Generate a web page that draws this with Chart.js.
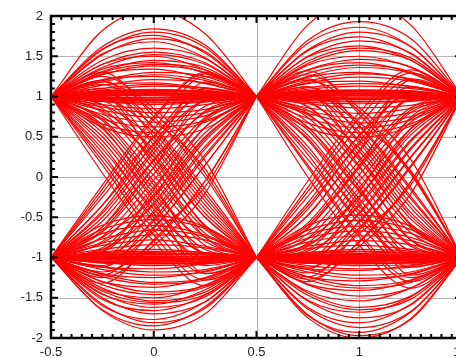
<!DOCTYPE html>
<html>
<head>
<meta charset="utf-8">
<script src="https://cdn.jsdelivr.net/npm/chart.js@4.4.0/dist/chart.umd.min.js"></script>
<style>
  html, body { margin: 0; padding: 0; overflow: hidden; background: #fff; }
</style>
</head>
<body>
<canvas id="eye_chart" width="470" height="358"></canvas>
<script>
// x positions inside one bit, relative to the bit centre
const sampleOffsets = [-0.5, -0.25, 0, 0.25, 0.5];
const bitCentres = [0, 1];

const xTicks = [-0.5, 0, 0.5, 1, 1.5];
const yTicks = [2, 1.5, 1, 0.5, 0, -0.5, -1, -1.5, -2];

// each row: value at -0.25, 0 and +0.25 from the bit centre
// first bit, 1 -> 1
const firstHigh = [
  [1.82, 2.07, 1.78], [1.62, 1.84, 1.64], [1.58, 1.8, 1.61], [1.59, 1.76, 1.54],
  [1.52, 1.72, 1.56], [1.53, 1.68, 1.48], [1.45, 1.6, 1.47], [1.4, 1.55, 1.42],
  [1.36, 1.52, 1.4], [1.4, 1.5, 1.33], [1.31, 1.45, 1.36], [1.34, 1.42, 1.29],
  [1.3, 1.4, 1.33], [1.27, 1.38, 1.3], [1.28, 1.34, 1.22], [1.2, 1.3, 1.25],
  [1.18, 1.27, 1.2], [1.21, 1.25, 1.16], [1.14, 1.21, 1.17], [1.14, 1.17, 1.1],
  [1.1, 1.15, 1.08], [1.08, 1.13, 1.11],
  [1.07, 1.09, 1.06], [1.065, 1.075, 1.06], [1.06, 1.08, 1.07], [1.05, 1.07, 1.05],
  [1.045, 1.06, 1.05], [1.04, 1.05, 1.03], [1.03, 1.04, 1.04], [1.025, 1.035, 1.03],
  [1.02, 1.03, 1.02], [1.005, 1.02, 1.01], [1.01, 1.01, 1.0], [0.99, 0.99, 1.0],
  [0.985, 0.985, 0.99], [0.98, 0.97, 0.98], [0.97, 0.96, 0.96], [0.965, 0.95, 0.96],
  [0.96, 0.95, 0.97], [0.95, 0.93, 0.95], [0.94, 0.92, 0.94],
  [0.94, 0.9, 0.93], [0.9, 0.85, 0.9], [0.87, 0.8, 0.84], [0.83, 0.74, 0.8],
  [0.78, 0.68, 0.76], [0.72, 0.62, 0.7], [0.66, 0.55, 0.68], [0.62, 0.5, 0.6],
];
// first bit, -1 -> -1
const firstLow = [
  [-1.66, -1.9, -1.7], [-1.65, -1.85, -1.61], [-1.58, -1.81, -1.63], [-1.6, -1.77, -1.55],
  [-1.5, -1.7, -1.55], [-1.52, -1.66, -1.47], [-1.45, -1.62, -1.49], [-1.46, -1.58, -1.4],
  [-1.42, -1.56, -1.46], [-1.38, -1.54, -1.43], [-1.4, -1.5, -1.34], [-1.34, -1.46, -1.37],
  [-1.3, -1.43, -1.35], [-1.3, -1.37, -1.25], [-1.24, -1.33, -1.28], [-1.21, -1.31, -1.26],
  [-1.2, -1.25, -1.17], [-1.15, -1.22, -1.18], [-1.12, -1.18, -1.15], [-1.12, -1.14, -1.08],
  [-1.06, -1.1, -1.08],
  [-1.07, -1.08, -1.06], [-1.065, -1.075, -1.07], [-1.06, -1.07, -1.07], [-1.05, -1.06, -1.04],
  [-1.045, -1.055, -1.05], [-1.03, -1.04, -1.03], [-1.025, -1.03, -1.02], [-1.02, -1.02, -1.01],
  [-1.01, -1.01, -1.005], [-1.0, -1.0, -0.99], [-0.99, -0.985, -0.99], [-0.98, -0.98, -0.99],
  [-0.97, -0.96, -0.97], [-0.965, -0.955, -0.96], [-0.96, -0.95, -0.95], [-0.95, -0.94, -0.96],
  [-0.94, -0.925, -0.94],
  [-0.93, -0.9, -0.94], [-0.9, -0.84, -0.88], [-0.85, -0.78, -0.86], [-0.82, -0.72, -0.78],
  [-0.77, -0.66, -0.74], [-0.7, -0.6, -0.72], [-0.65, -0.53, -0.64], [-0.6, -0.48, -0.62],
];
// first bit, 1 -> -1
const firstFall = [
  [0.05, -0.8, -1.35], [0.15, -0.72, -1.28], [0.2, -0.65, -1.2], [0.25, -0.5, -1.0],
  [0.3, -0.55, -1.1], [0.35, -0.4, -0.95], [0.4, -0.45, -1.05], [0.45, -0.35, -0.95],
  [0.5, -0.3, -1.2], [0.55, -0.25, -0.9], [0.6, -0.15, -0.85], [0.62, -0.2, -0.8],
  [0.65, -0.1, -0.95], [0.7, -0.05, -0.75], [0.72, 0.02, -0.7], [0.75, 0.25, -0.5],
  [0.8, 0.1, -0.65], [0.82, 0.35, -0.45], [0.85, 0.2, -0.6], [0.9, 0.15, -0.75],
  [0.9, 0.45, -0.35], [0.95, 0.3, -0.5], [0.98, 0.55, -0.25], [1.0, 0.4, -0.4],
  [1.0, 0.25, -0.62], [1.05, 0.62, -0.15], [1.1, 0.5, -0.3], [1.15, 0.7, 0.1],
  [1.18, 0.8, 0.05], [1.2, 0.6, -0.2], [1.25, 0.85, 0.2], [1.3, 0.75, 0.0],
];
// first bit, -1 -> 1
const firstRise = [
  [-0.1, 0.75, 1.3], [-0.15, 0.72, 1.28], [-0.2, 0.6, 1.25], [-0.25, 0.5, 1.0],
  [-0.35, 0.5, 1.1], [-0.35, 0.4, 0.95], [-0.42, 0.42, 1.02], [-0.45, 0.35, 1.18],
  [-0.5, 0.3, 0.95], [-0.55, 0.22, 0.88], [-0.62, 0.12, 0.82], [-0.62, 0.2, 0.8],
  [-0.66, 0.12, 0.95], [-0.68, 0.04, 0.74], [-0.74, -0.04, 0.7], [-0.75, -0.25, 0.5],
  [-0.8, -0.12, 0.62], [-0.82, -0.35, 0.45], [-0.88, -0.22, 0.55], [-0.92, -0.16, 0.72],
  [-0.9, -0.45, 0.35], [-0.93, -0.32, 0.48], [-0.98, -0.55, 0.25], [-1.02, -0.42, 0.38],
  [-1.0, -0.25, 0.62], [-1.05, -0.62, 0.15], [-1.12, -0.52, 0.28], [-1.1, -0.68, -0.12],
  [-1.18, -0.8, -0.05], [-1.22, -0.64, 0.15], [-1.25, -0.85, -0.2], [-1.32, -0.78, -0.05],
];
// second bit, 1 -> 1
const secondHigh = [
  [1.89, 2.19, 1.89], [1.7, 1.93, 1.72], [1.66, 1.86, 1.62], [1.58, 1.8, 1.62],
  [1.57, 1.74, 1.53], [1.5, 1.69, 1.54], [1.49, 1.63, 1.45], [1.44, 1.6, 1.48],
  [1.41, 1.57, 1.45], [1.39, 1.5, 1.36], [1.33, 1.46, 1.37], [1.33, 1.42, 1.29],
  [1.29, 1.39, 1.31], [1.25, 1.36, 1.29], [1.24, 1.3, 1.21], [1.19, 1.28, 1.22],
  [1.17, 1.24, 1.19], [1.16, 1.19, 1.12], [1.11, 1.16, 1.13], [1.09, 1.13, 1.1],
  [1.07, 1.08, 1.07], [1.065, 1.08, 1.07], [1.07, 1.07, 1.06], [1.06, 1.06, 1.04],
  [1.05, 1.055, 1.05], [1.04, 1.04, 1.03], [1.03, 1.03, 1.04], [1.025, 1.035, 1.02],
  [1.02, 1.02, 1.02], [1.01, 1.015, 1.005], [1.0, 1.01, 1.01], [0.99, 0.995, 1.0],
  [0.99, 0.98, 0.99], [0.98, 0.97, 0.97], [0.975, 0.965, 0.98], [0.97, 0.96, 0.98],
  [0.96, 0.94, 0.95], [0.95, 0.93, 0.95],
  [0.93, 0.91, 0.94], [0.91, 0.86, 0.89], [0.86, 0.79, 0.85], [0.82, 0.73, 0.8],
  [0.79, 0.67, 0.75], [0.73, 0.61, 0.71], [0.67, 0.55, 0.66], [0.61, 0.49, 0.63],
];
// second bit, -1 -> -1
const secondLow = [
  [-1.75, -2.0, -1.76], [-1.71, -1.97, -1.77], [-1.72, -1.93, -1.68], [-1.64, -1.87, -1.67],
  [-1.62, -1.81, -1.58], [-1.54, -1.75, -1.59], [-1.53, -1.68, -1.49], [-1.47, -1.65, -1.52],
  [-1.44, -1.62, -1.48], [-1.42, -1.54, -1.38], [-1.34, -1.48, -1.38], [-1.33, -1.41, -1.29],
  [-1.28, -1.38, -1.31], [-1.24, -1.35, -1.28], [-1.24, -1.29, -1.2], [-1.18, -1.26, -1.21],
  [-1.15, -1.22, -1.18], [-1.14, -1.16, -1.1], [-1.1, -1.14, -1.12], [-1.06, -1.1, -1.09],
  [-1.07, -1.08, -1.06], [-1.07, -1.075, -1.065], [-1.06, -1.07, -1.07], [-1.05, -1.06, -1.05],
  [-1.045, -1.05, -1.04], [-1.04, -1.04, -1.03], [-1.03, -1.03, -1.04], [-1.02, -1.025, -1.02],
  [-1.02, -1.02, -1.01], [-1.01, -1.01, -1.0], [-1.0, -1.0, -1.0], [-0.995, -0.99, -0.99],
  [-0.99, -0.98, -0.98], [-0.98, -0.97, -0.98], [-0.97, -0.96, -0.97], [-0.965, -0.95, -0.96],
  [-0.95, -0.93, -0.95], [-0.945, -0.92, -0.94],
  [-0.94, -0.9, -0.92], [-0.89, -0.85, -0.9], [-0.86, -0.79, -0.84], [-0.81, -0.73, -0.79],
  [-0.76, -0.67, -0.75], [-0.71, -0.61, -0.7], [-0.66, -0.54, -0.65], [-0.6, -0.47, -0.61],
];
// second bit, 1 -> -1
const secondFall = [
  [0.0, -0.85, -1.38], [0.12, -0.74, -1.3], [0.15, -0.7, -1.25], [0.22, -0.52, -1.02],
  [0.28, -0.58, -1.12], [0.33, -0.42, -0.97], [0.38, -0.46, -1.02], [0.46, -0.36, -0.98],
  [0.48, -0.32, -1.22], [0.52, -0.27, -0.92], [0.58, -0.18, -0.86], [0.62, -0.16, -0.84],
  [0.62, -0.12, -0.98], [0.68, -0.06, -0.78], [0.74, 0.03, -0.69], [0.77, 0.24, -0.52],
  [0.79, 0.12, -0.63], [0.83, 0.36, -0.44], [0.87, 0.21, -0.58], [0.88, 0.14, -0.78],
  [0.92, 0.46, -0.33], [0.94, 0.32, -0.48], [0.99, 0.56, -0.24], [1.03, 0.42, -0.38],
  [1.02, 0.26, -0.6], [1.06, 0.64, -0.13], [1.12, 0.52, -0.27], [1.12, 0.68, 0.08],
  [1.2, 0.82, 0.06], [1.22, 0.63, -0.16], [1.27, 0.86, 0.22], [1.32, 0.78, 0.04],
];
// second bit, -1 -> 1
const secondRise = [
  [-0.05, 0.8, 1.33], [-0.13, 0.73, 1.29], [-0.18, 0.64, 1.22], [-0.24, 0.51, 1.02],
  [-0.32, 0.52, 1.12], [-0.36, 0.41, 0.96], [-0.4, 0.44, 1.04], [-0.47, 0.33, 1.2],
  [-0.48, 0.32, 0.97], [-0.57, 0.2, 0.86], [-0.6, 0.14, 0.83], [-0.63, 0.11, 0.8],
  [-0.64, 0.14, 0.97], [-0.7, 0.03, 0.72], [-0.76, -0.05, 0.68], [-0.77, -0.24, 0.52],
  [-0.82, -0.13, 0.6], [-0.84, -0.36, 0.44], [-0.86, -0.24, 0.56], [-0.9, -0.18, 0.74],
  [-0.92, -0.46, 0.34], [-0.95, -0.33, 0.46], [-0.99, -0.56, 0.24], [-1.04, -0.44, 0.36],
  [-1.02, -0.27, 0.6], [-1.07, -0.63, 0.14], [-1.14, -0.55, 0.25], [-1.12, -0.7, -0.1],
  [-1.19, -0.81, -0.06], [-1.24, -0.66, 0.12], [-1.27, -0.86, -0.21], [-1.3, -0.8, -0.06],
];

function traces(rows, centre, from, to) {
  return rows.map((r) => ({
    data: sampleOffsets.map((dx, i) => ({
      x: centre + dx,
      y: i === 0 ? from : i === 4 ? to : r[i - 1],
    })),
    borderColor: "rgb(255, 0, 0)",
    borderWidth: 1.2,
    pointRadius: 0,
    fill: false,
    cubicInterpolationMode: "monotone",
  }));
}

const datasets = [
  ...traces(firstHigh, bitCentres[0], 1, 1),
  ...traces(firstLow, bitCentres[0], -1, -1),
  ...traces(firstFall, bitCentres[0], 1, -1),
  ...traces(firstRise, bitCentres[0], -1, 1),
  ...traces(secondHigh, bitCentres[1], 1, 1),
  ...traces(secondLow, bitCentres[1], -1, -1),
  ...traces(secondFall, bitCentres[1], 1, -1),
  ...traces(secondRise, bitCentres[1], -1, 1),
];

const isMajor = (v) => Math.abs(v * 2 - Math.round(v * 2)) < 1e-6;

const framePlugin = {
  id: "frame",
  beforeDraw(chart) {
    const c = chart.ctx;
    c.save();
    c.fillStyle = "#fff";
    c.fillRect(0, 0, chart.width, chart.height);
    c.restore();
  },
  beforeDatasetsDraw(chart) {
    const c = chart.ctx;
    const a = chart.chartArea;
    const xs = chart.scales.x;
    const ys = chart.scales.y;
    c.save();
    c.strokeStyle = "#b4b4b4";
    c.lineWidth = 1;
    c.beginPath();
    xTicks.forEach((v) => {
      const px = Math.round(xs.getPixelForValue(v)) + 0.5;
      c.moveTo(px, a.top);
      c.lineTo(px, a.bottom);
    });
    yTicks.forEach((v) => {
      const py = Math.round(ys.getPixelForValue(v)) + 0.5;
      c.moveTo(a.left, py);
      c.lineTo(a.right, py);
    });
    c.stroke();
    c.restore();
  },
  afterDraw(chart) {
    const c = chart.ctx;
    const a = chart.chartArea;
    const xs = chart.scales.x;
    const ys = chart.scales.y;
    c.save();
    c.strokeStyle = "#000";
    c.lineWidth = 2.5;
    c.strokeRect(a.left, a.top, a.right - a.left, a.bottom - a.top);

    c.lineWidth = 2;
    c.beginPath();
    for (let i = 0; i <= 40; i++) {
      const v = -0.5 + i * 0.05;
      const len = isMajor(v) ? 7 : 4;
      const px = xs.getPixelForValue(v);
      c.moveTo(px, a.top);
      c.lineTo(px, a.top + len);
      c.moveTo(px, a.bottom);
      c.lineTo(px, a.bottom - len);
    }
    for (let i = 0; i <= 40; i++) {
      const v = -2 + i * 0.1;
      const len = isMajor(v) ? 7 : 4;
      const py = ys.getPixelForValue(v);
      c.moveTo(a.left, py);
      c.lineTo(a.left + len, py);
      c.moveTo(a.right, py);
      c.lineTo(a.right - len, py);
    }
    c.stroke();

    c.fillStyle = "#222";
    c.font = "13px 'Liberation Sans', Arial, sans-serif";
    c.textAlign = "right";
    c.textBaseline = "middle";
    yTicks.forEach((v) => {
      c.fillText(String(v), a.left - 8, ys.getPixelForValue(v));
    });
    c.textAlign = "center";
    c.textBaseline = "top";
    xTicks.forEach((v) => {
      c.fillText(String(v), xs.getPixelForValue(v), a.bottom + 8);
    });
    c.restore();
  },
};

const eyeChart = new Chart(document.getElementById("eye_chart"), {
  type: "line",
  data: { datasets: datasets },
  options: {
    responsive: false,
    animation: false,
    events: [],
    layout: {
      padding: { left: 51, right: 8, top: 16, bottom: 20 },
    },
    scales: {
      x: { type: "linear", min: -0.5, max: 1.5, display: false },
      y: { type: "linear", min: -2, max: 2, display: false },
    },
    plugins: {
      legend: { display: false },
      tooltip: { enabled: false },
    },
  },
  plugins: [framePlugin],
});
</script>
</body>
</html>
